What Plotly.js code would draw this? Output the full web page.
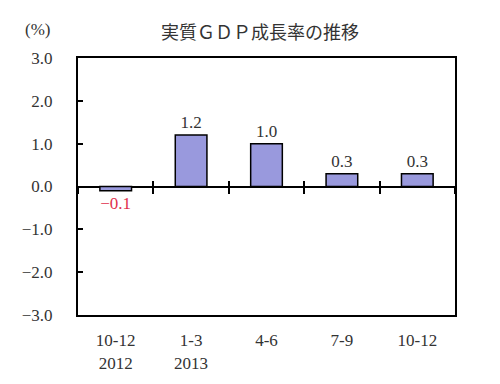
<!DOCTYPE html>
<html><head><meta charset="utf-8">
<script src="https://cdn.plot.ly/plotly-3.0.1.min.js"></script>
<style>html,body{margin:0;padding:0;background:#fff}#c{width:500px;height:384px}</style>
</head><body><div id="c"></div>
<script>
const categories = ["10-12<br>2012", "1-3<br>2013", "4-6", "7-9", "10-12"];
const growth = [-0.1, 1.2, 1.0, 0.3, 0.3];
const yTicks = [3, 2, 1, 0, -1, -2, -3];
const yTickText = ["3.0", "2.0", "1.0", "0.0", "−1.0", "−2.0", "−3.0"];

const numFont = "'Liberation Serif', 'DejaVu Serif', serif";
const labels = growth.map(v => (v < 0 ? "−" : "") + Math.abs(v).toFixed(1));
const labelColors = growth.map(v => v < 0 ? "#e0304c" : "#333333");

const bars = {
  type: "bar", x: categories, y: growth,
  marker: {color: "#9999dd", line: {color: "#000", width: 1.5}},
  width: 0.42,
  text: labels, textposition: "outside", cliponaxis: false,
  textfont: {family: numFont, size: 17, color: labelColors},
  hoverinfo: "skip", showlegend: false
};
const ghost2 = {type: "bar", x: categories, y: growth, xaxis: "x2", marker: {opacity: 0}, hoverinfo: "skip", showlegend: false};
const ghost3 = {type: "bar", x: categories, y: growth, xaxis: "x3", marker: {opacity: 0}, hoverinfo: "skip", showlegend: false};

const tickAxis = (dir) => ({
  type: "category", overlaying: "x", anchor: "free", position: 0.5, side: "bottom",
  categoryorder: "array", categoryarray: categories,
  range: [-0.5, categories.length - 0.5],
  tickson: "boundaries", ticks: dir, ticklen: 6, tickwidth: 2, tickcolor: "#000",
  showticklabels: false, showline: false, showgrid: false, zeroline: false
});

const layout = {
  width: 500, height: 384,
  margin: {l: 78, r: 45, t: 58, b: 69},
  paper_bgcolor: "#fff", plot_bgcolor: "#fff",
  title: {text: "実質ＧＤＰ成長率の推移", font: {family: "Noto Sans CJK JP", size: 18, color: "#333"},
          x: 0.52, xanchor: "center", y: 0.915, yanchor: "middle"},
  xaxis: {
    type: "category", categoryorder: "array", categoryarray: categories,
    range: [-0.5, categories.length - 0.5],
    showline: true, mirror: true, linecolor: "#000", linewidth: 2,
    ticks: "", showgrid: false, zeroline: false, ticklabelstandoff: 9,
    tickfont: {family: numFont, size: 17, color: "#333"}
  },
  xaxis2: tickAxis("inside"),
  xaxis3: tickAxis("outside"),
  yaxis: {
    range: [-3, 3], tickvals: yTicks, ticktext: yTickText,
    showline: true, mirror: true, linecolor: "#000", linewidth: 2,
    ticks: "inside", ticklen: 5, tickwidth: 2, tickcolor: "#000",
    ticklabelstandoff: 20,
    showgrid: false, zeroline: true, zerolinecolor: "#000", zerolinewidth: 2,
    tickfont: {family: numFont, size: 17, color: "#333"}
  },
  annotations: [{text: "(%)", xref: "paper", yref: "paper", x: -0.108, y: 1.11, xanchor: "center", yanchor: "middle",
                 showarrow: false, font: {family: numFont, size: 17, color: "#333"}}],
  bargap: 0.58
};
Plotly.newPlot("c", [bars, ghost2, ghost3], layout, {displayModeBar: false, staticPlot: true});
</script></body></html>
